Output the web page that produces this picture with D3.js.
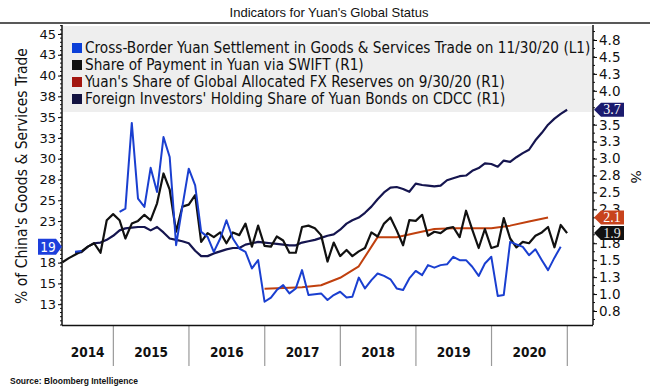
<!DOCTYPE html>
<html>
<head>
<meta charset="utf-8">
<script src="https://cdn.jsdelivr.net/npm/d3@7"></script>
<style>
  body { margin: 0; background: #fff; }
  svg { display: block; }
  .tick-left { font-family: "DejaVu Sans", sans-serif; font-size: 13px; fill: #111; }
  .tick-right { font-family: "DejaVu Sans", sans-serif; font-size: 13.5px; fill: #111; }
  .legend-text { font-family: "DejaVu Sans Condensed", "DejaVu Sans", sans-serif; font-size: 15.2px; fill: #111; }
</style>
</head>
<body>
<svg id="chart" width="650" height="392"></svg>
<script>
// Monthly series, each value sits on a month end.
// Cross-border yuan settlement, % of goods & services trade (left axis).
const settleStart = [2014, 6];
const settlement = [
  18.8, 18.9, null, null, null, null, null,
  23.6, 24.0, 34.3, 25.2, 24.2, 28.9, 26.0, 32.6, 30.2, 19.6, 24.2, 28.8,
  26.8, 21.2, 20.6, 18.8, 20.4, 22.6, 20.4, 19.2, 18.8, 16.8, 17.8, 12.8,
  13.3, 14.2, 14.8, 13.8, 14.4, 16.6, 13.6, 13.7, 13.8, 13.0, 13.6, 14.0,
  13.3, 13.4, 15.7, 14.4, 15.4, 16.2, 15.9, 15.5, 14.4, 14.2, 15.6, 16.5,
  16.0, 17.2, 16.9, 17.2, 17.3, 18.2, 17.8, 17.8, 17.0, 15.9, 17.4, 18.2,
  13.5, 13.6, 20.0, 19.7, 19.4, 18.4, 19.1, 17.8, 16.6, 18.1, 19.4
];

// Share of payments in yuan via SWIFT, % (right axis).
const swiftStart = [2014, 4];
const swift = [
  1.47, 1.53, 1.58, 1.63, 1.70, 1.75, 1.61, 2.09, 2.18,
  2.09, 1.82, 2.04, 2.08, 2.17, 2.09, 2.34, 2.78, 2.54, 1.92, 2.29, 2.32,
  2.46, 1.77, 1.90, 1.84, 1.91, 1.75, 1.91, 1.87, 2.04, 1.70, 2.01, 1.71,
  1.70, 1.85, 1.79, 1.61, 1.61, 1.99, 2.01, 1.97, 1.87, 1.48, 1.76, 1.56,
  1.65, 1.56, 1.63, 1.68, 1.91, 1.85, 2.04, 2.13, 1.94, 1.72, 2.09, 2.08,
  2.17, 1.86, 1.92, 1.90, 1.97, 1.99, 1.84, 2.23, 1.95, 1.68, 1.96, 1.68,
  1.71, 2.12, 1.82, 1.69, 1.77, 1.75, 1.86, 1.91, 1.99, 1.69, 2.02, 1.90
];

// Foreign investors' holding share of yuan bonds on CDCC, % (right axis).
const cdccStart = [2014, 6];
const cdcc = [
  1.61, 1.62, 1.70, 1.75, 1.76, 1.80, 1.86,
  1.94, 1.97, 1.98, 1.99, 1.99, 1.94, 1.99, 1.91, 1.82, 1.80, 1.78, 1.75,
  1.64, 1.56, 1.56, 1.60, 1.63, 1.66, 1.68, 1.68, 1.73, 1.75, 1.77, 1.76,
  1.75, 1.74, 1.73, 1.72, 1.72, 1.76, 1.78, 1.80, 1.83, 1.86, 1.88, 1.95,
  2.04, 2.09, 2.13, 2.20, 2.29, 2.40, 2.50, 2.57, 2.58, 2.55, 2.51, 2.63,
  2.61, 2.60, 2.59, 2.60, 2.68, 2.71, 2.74, 2.75, 2.82, 2.86, 2.93, 2.92,
  2.88, 2.97, 2.95, 3.02, 3.08, 3.13, 3.27, 3.38, 3.50, 3.59, 3.66, 3.72
];

// Yuan's share of global allocated FX reserves, % (right axis), quarterly.
const reservesStart = [2016, 12];
const reserves = [
  1.08, 1.09, 1.10, 1.13, 1.24, 1.41, 1.84, 1.84,
  1.90, 1.96, 1.97, 1.97, 1.97, 2.01, 2.07, 2.13
];

const yearLabels = ["2014", "2015", "2016", "2017", "2018", "2019", "2020"];
// 20, 3.8 and 2.0 sit under the last-value tags, so they are left out.
const leftTicks = [12.5, 15, 17.5, 22.5, 25, 27.5, 30, 32.5, 35, 37.5, 40, 42.5, 45];
const rightTicks = [0.75, 1, 1.25, 1.5, 1.75, 2.25, 2.5, 2.75, 3, 3.25, 3.5, 4, 4.25, 4.5, 4.75];

const legendItems = [
  { label: "Cross-Border Yuan Settlement in Goods & Services Trade on 11/30/20 (L1)", color: "#0b3fd8" },
  { label: "Share of Payment in Yuan via SWIFT (R1)", color: "#111111" },
  { label: "Yuan's Share of Global Allocated FX Reserves on 9/30/20 (R1)", color: "#a31610" },
  { label: "Foreign Investors' Holding Share of Yuan Bonds on CDCC (R1)", color: "#121240" }
];

const colors = { settle: "#1a3fd0", swift: "#111111", reserves: "#c0400e", cdcc: "#15154f" };

// Turn a start month and a step (in months) into dated points.
function toPoints(start, values, step = 1) {
  return values.map((v, i) => ({
    date: new Date(start[0], start[1] - 1 + i * step + 1, 0),
    value: v
  }));
}

const svg = d3.select("#chart");
const plot = { left: 62, right: 593, top: 25, bottom: 325 };

const x = d3.scaleTime()
  .domain([new Date(2014, 3, 28), new Date(2021, 4, 5)])
  .range([plot.left, plot.right]);
const yLeft = d3.scaleLinear().domain([10, 46.08]).range([plot.bottom, plot.top]);
const yRight = d3.scaleLinear().domain([0.5434, 4.9714]).range([plot.bottom, plot.top]);

// Title with its rule underneath.
svg.append("text")
  .attr("x", 329).attr("y", 17)
  .attr("text-anchor", "middle")
  .style("font-family", "'Liberation Sans', Arial, sans-serif")
  .style("font-size", "13px")
  .attr("fill", "#111")
  .text("Indicators for Yuan's Global Status");
svg.append("line")
  .attr("x1", 0).attr("x2", 650).attr("y1", 23).attr("y2", 23)
  .attr("stroke", "#222").attr("stroke-width", 1.5);

// Legend block sits on a grey band across the top of the plot.
svg.append("rect")
  .attr("x", plot.left + 1).attr("y", plot.top + 1)
  .attr("width", plot.right - plot.left - 2).attr("height", 86)
  .attr("fill", "#eeeeee");

const legend = svg.append("g");
legendItems.forEach((item, i) => {
  const cy = 48 + i * 17;
  legend.append("rect")
    .attr("x", 72).attr("y", cy - 5).attr("width", 10).attr("height", 10)
    .attr("fill", item.color);
  legend.append("text")
    .attr("class", "legend-text")
    .attr("x", 85).attr("y", cy + 5)
    .text(item.label);
});

// Year boundaries below the axis.
const yearEdges = d3.range(2015, 2022).map(yr => new Date(yr, 0, 1));
svg.append("g").selectAll("line")
  .data(yearEdges)
  .join("line")
  .attr("x1", d => x(d)).attr("x2", d => x(d))
  .attr("y1", plot.bottom).attr("y2", 366)
  .attr("stroke", "#9a9a9a").attr("stroke-width", 1.2);

svg.append("g").selectAll("text")
  .data(yearLabels)
  .join("text")
  .attr("x", d => {
    const a = Math.max(plot.left, x(new Date(+d, 0, 1)));
    const b = x(new Date(+d + 1, 0, 1));
    return (a + b) / 2;
  })
  .attr("y", 357)
  .attr("text-anchor", "middle")
  .style("font-family", "'DejaVu Sans Condensed', 'DejaVu Sans', sans-serif")
  .style("font-size", "13.5px")
  .style("font-weight", "bold")
  .attr("fill", "#111")
  .text(d => d);

// Axes: major ticks with labels, minor ticks in between.
const leftAxis = d3.axisLeft(yLeft)
  .tickValues(leftTicks).tickSize(4).tickPadding(2)
  .tickFormat(d3.format(".0f"));
const gl = svg.append("g").attr("transform", `translate(${plot.left},0)`).call(leftAxis);
gl.select(".domain").remove();
gl.selectAll("text").attr("class", "tick-left").attr("fill", null);

svg.append("g").selectAll("line")
  .data(d3.range(10, 46.01, 0.5))
  .join("line")
  .attr("x1", plot.left - 2).attr("x2", plot.left)
  .attr("y1", d => yLeft(d)).attr("y2", d => yLeft(d))
  .attr("stroke", "#111");

const rightAxis = d3.axisRight(yRight)
  .tickValues(rightTicks).tickSize(4).tickPadding(2)
  .tickFormat(d3.format(".1f"));
const gr = svg.append("g").attr("transform", `translate(${plot.right},0)`).call(rightAxis);
gr.select(".domain").remove();
gr.selectAll("text").attr("class", "tick-right").attr("fill", null);

svg.append("g").selectAll("line")
  .data(d3.range(0.625, 4.95, 0.125))
  .join("line")
  .attr("x1", plot.right).attr("x2", plot.right + 2)
  .attr("y1", d => yRight(d)).attr("y2", d => yRight(d))
  .attr("stroke", "#111");

// Frame lines.
svg.append("line")
  .attr("x1", plot.left).attr("x2", plot.left)
  .attr("y1", plot.top).attr("y2", plot.bottom)
  .attr("stroke", "#111").attr("stroke-width", 1.5);
svg.append("line")
  .attr("x1", plot.right).attr("x2", plot.right)
  .attr("y1", plot.top).attr("y2", plot.bottom)
  .attr("stroke", "#111").attr("stroke-width", 1.5);
svg.append("line")
  .attr("x1", plot.left).attr("x2", plot.right)
  .attr("y1", plot.bottom + 0.5).attr("y2", plot.bottom + 0.5)
  .attr("stroke", "#111").attr("stroke-width", 1.5);

// Axis titles.
svg.append("text")
  .attr("transform", "translate(27,176) rotate(-90)")
  .attr("text-anchor", "middle")
  .style("font-family", "'DejaVu Sans Condensed', 'DejaVu Sans', sans-serif")
  .style("font-size", "15.5px")
  .attr("fill", "#111")
  .text("% of China's Goods & Services Trade");
svg.append("text")
  .attr("transform", "translate(631,177) rotate(90)")
  .attr("text-anchor", "middle")
  .style("font-family", "'DejaVu Sans', sans-serif")
  .style("font-size", "14px")
  .attr("fill", "#111")
  .text("%");

// Series lines.
const lineLeft = d3.line()
  .defined(d => d.value !== null)
  .x(d => x(d.date)).y(d => yLeft(d.value));
const lineRight = d3.line()
  .defined(d => d.value !== null)
  .x(d => x(d.date)).y(d => yRight(d.value));

const series = [
  { pts: toPoints(reservesStart, reserves, 3), line: lineRight, color: colors.reserves, w: 2 },
  { pts: toPoints(cdccStart, cdcc), line: lineRight, color: colors.cdcc, w: 2.2 },
  { pts: toPoints(swiftStart, swift), line: lineRight, color: colors.swift, w: 2.2 },
  { pts: toPoints(settleStart, settlement), line: lineLeft, color: colors.settle, w: 2 }
];
series.forEach(s => {
  svg.append("path")
    .datum(s.pts)
    .attr("fill", "none")
    .attr("stroke", s.color)
    .attr("stroke-width", s.w)
    .attr("stroke-linejoin", "round")
    .attr("d", s.line);
});

// Last-value tags on the axes.
function rightTag(value, fill, textFill) {
  const cy = yRight(value);
  const x0 = plot.right + 1;
  svg.append("path")
    .attr("d", `M${x0},${cy} L${x0 + 7},${cy - 7} L${x0 + 30},${cy - 7} L${x0 + 30},${cy + 7} L${x0 + 7},${cy + 7} Z`)
    .attr("fill", fill);
  svg.append("text")
    .attr("x", x0 + 18).attr("y", cy + 4.5)
    .attr("text-anchor", "middle")
    .style("font-family", "'Liberation Serif', 'DejaVu Serif', serif")
    .style("font-size", "14px")
    .attr("fill", textFill)
    .text(d3.format(".1f")(value));
}
rightTag(cdcc[cdcc.length - 1], "#1b1b6e", "#fff");
rightTag(reserves[reserves.length - 1], "#c8431c", "#fff");
rightTag(swift[swift.length - 1], "#111111", "#e6e6e6");

const lastSettle = settlement[settlement.length - 1];
const ly = yLeft(lastSettle);
svg.append("path")
  .attr("d", `M${plot.left},${ly} L${plot.left - 6},${ly - 8} L${plot.left - 24},${ly - 8} L${plot.left - 24},${ly + 8} L${plot.left - 6},${ly + 8} Z`)
  .attr("fill", "#1d3fdc");
svg.append("text")
  .attr("x", plot.left - 14).attr("y", ly + 5)
  .attr("text-anchor", "middle")
  .style("font-family", "'DejaVu Sans Condensed', 'DejaVu Sans', sans-serif")
  .style("font-size", "13.5px")
  .attr("fill", "#fff")
  .text(Math.floor(lastSettle));

// Source line.
svg.append("text")
  .attr("x", 10).attr("y", 384)
  .style("font-family", "'Liberation Sans', Arial, sans-serif")
  .style("font-size", "8.5px")
  .style("font-weight", "bold")
  .attr("fill", "#111")
  .text("Source: Bloomberg Intelligence");
</script>
</body>
</html>
